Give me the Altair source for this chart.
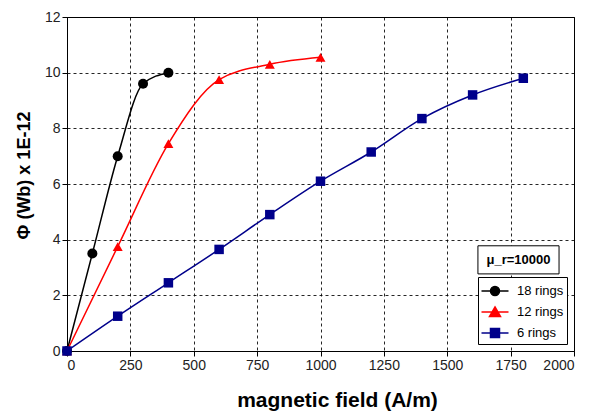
import altair as alt
import pandas as pd

# ---- data ----
series_names = ["18 rings", "12 rings", "6 rings"]
series_colors = ["#000000", "#ff0000", "#00008b"]
series_shapes = ["circle", "triangle-up", "square"]
series_sizes = [100, 100, 90]

h_18 = [0, 100, 200, 300, 400]
phi_18 = [0, 3.5, 7.0, 9.6, 10.0]

h_12 = [0, 200, 400, 600, 800, 1000]
phi_12 = [0, 3.75, 7.45, 9.75, 10.3, 10.55]

h_6 = [0, 200, 400, 600, 800, 1000, 1200, 1400, 1600, 1800]
phi_6 = [0, 1.25, 2.45, 3.65, 4.9, 6.1, 7.15, 8.35, 9.2, 9.8]

x_ticks = [0, 250, 500, 750, 1000, 1250, 1500, 1750, 2000]
y_ticks = [0, 2, 4, 6, 8, 10, 12]

annotation_text = "μ_r=10000"

rows = []
for name, hs, ps in [("18 rings", h_18, phi_18), ("12 rings", h_12, phi_12), ("6 rings", h_6, phi_6)]:
    for h, p in zip(hs, ps):
        rows.append({"series": name, "H": h, "phi": p})
df = pd.DataFrame(rows)

FONT = "Liberation Sans"

x_enc = alt.X("H:Q", scale=alt.Scale(domain=[0, 2000], nice=False),
              axis=alt.Axis(values=x_ticks, format="d", title="magnetic field (A/m)",
                            titleFontSize=21, titleX=270, titleY=55, titleBaseline="alphabetic"))
y_enc = alt.Y("phi:Q", scale=alt.Scale(domain=[0, 12], nice=False),
              axis=alt.Axis(values=y_ticks, format="d", title="Φ (Wb) x 1E-12",
                            titleFontSize=18, titleX=-43, titleY=158, titleBaseline="middle"))
cscale = alt.Scale(domain=series_names, range=series_colors)

base = alt.Chart(df)

series_layers = []
for i, (name, col, shp, sz) in enumerate(zip(series_names, series_colors, series_shapes, series_sizes)):
    sub = base.transform_filter(alt.datum.series == name)
    ln = sub.mark_line(interpolate="monotone", strokeWidth=1.5, color=col).encode(
        x=x_enc if i == 0 else alt.X("H:Q"), y=y_enc if i == 0 else alt.Y("phi:Q"))
    pt = sub.mark_point(filled=True, opacity=1, shape=shp, size=sz, color=col).encode(
        x="H:Q", y="phi:Q")
    series_layers += [ln, pt]

legend_paths = [
    "M-1.35,0H1.35M-0.45,0A0.45,0.45 0 1,0 0.45,0A0.45,0.45 0 1,0 -0.45,0Z",
    "M-1.35,0H1.35M0,-0.5L0.55,0.45L-0.55,0.45Z",
    "M-1.35,0H1.35M-0.45,-0.45H0.45V0.45H-0.45Z",
]

leg_props = dict(
    orient="bottom-right", offset=7,
    symbolSize=400, symbolStrokeWidth=1.5, symbolOpacity=1, symbolOffset=3,
    labelFont=FONT, labelFontSize=13, labelColor="#000000",
    labelOffset=11, rowPadding=2, padding=3,
    strokeColor="#000000", fillColor="#ffffff",
)

# legend-only layer: no marks drawn (empty after filter), scales have explicit domains
legend_layer = base.transform_filter("false").mark_point().encode(
    x="H:Q", y="phi:Q",
    fill=alt.Fill("series:N", scale=cscale, title="", legend=alt.Legend(**leg_props)),
    stroke=alt.Stroke("series:N", scale=cscale, title="", legend=alt.Legend(**leg_props)),
    shape=alt.Shape("series:N", scale=alt.Scale(domain=series_names, range=legend_paths),
                    title="", legend=alt.Legend(**leg_props)),
)

ann = pd.DataFrame({"x1": [1621], "x2": [1941], "y1": [2.77], "y2": [3.78],
                    "tx": [1781], "ty": [3.27], "label": [annotation_text]})
ann_box = alt.Chart(ann).mark_rect(fill="#ffffff", stroke="#000000", strokeWidth=1).encode(
    x="x1:Q", x2="x2:Q", y="y1:Q", y2="y2:Q")
ann_text = alt.Chart(ann).mark_text(font=FONT, fontSize=13, fontWeight="bold", color="#000000").encode(
    x="tx:Q", y="ty:Q", text="label:N")

chart = alt.layer(*series_layers, legend_layer, ann_box, ann_text).properties(
    width=507, height=334,
    autosize=alt.AutoSizeParams(type="none"),
    padding={"left": 59, "top": 9, "right": 30, "bottom": 70},
).configure_view(
    stroke="#000000", strokeWidth=1
).configure_axis(
    labelFont=FONT, labelFontSize=14, labelColor="#222222",
    titleFont=FONT, titleFontWeight="bold", titleColor="#000000",
    domainColor="#000000", domainWidth=1, tickColor="#000000", tickSize=5,
    grid=True, gridColor="#000000", gridDash=[3, 3], gridWidth=1, gridOpacity=0.85,
)

chart.save("out.html", embed_options={"renderer": "svg", "actions": False})
